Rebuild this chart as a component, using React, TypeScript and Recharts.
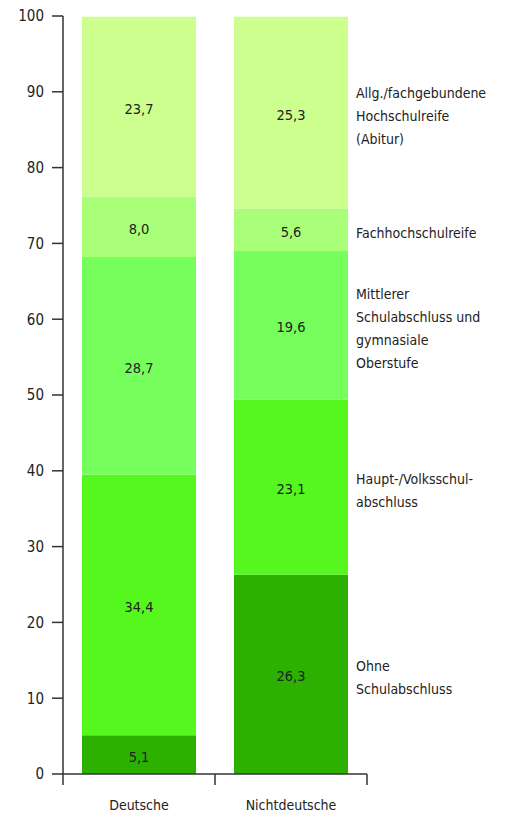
import React from 'react';
import { BarChart, Bar, XAxis, YAxis, LabelList } from 'recharts';

const categories = ['Deutsche', 'Nichtdeutsche'];
const seriesKeys = ['ohne', 'haupt', 'mittel', 'fach', 'abitur'];
const seriesLabels: string[][] = [
  ['Ohne', 'Schulabschluss'],
  ['Haupt-/Volksschul-', 'abschluss'],
  ['Mittlerer', 'Schulabschluss und', 'gymnasiale', 'Oberstufe'],
  ['Fachhochschulreife'],
  ['Allg./fachgebundene', 'Hochschulreife', '(Abitur)'],
];
const deutsche = [5.1, 34.4, 28.7, 8.0, 23.7];
const nichtdeutsche = [26.3, 23.1, 19.6, 5.6, 25.3];
const yTicks = [0, 10, 20, 30, 40, 50, 60, 70, 80, 90, 100];
const colors = ['#2cb100', '#55f71f', '#76fe5c', '#aaff78', '#ccff8d'];

const FONT = '"DejaVu Sans Condensed", sans-serif';
const TEXT = '#222';
const AXIS = '#333';
const FS = 14;

const CHART_W = 490;
const CHART_H = 809;
const MARGIN = { top: 8, right: 131, bottom: 0, left: 0 };
const YAXIS_W = 55;
const PLOT_W = CHART_W - MARGIN.left - MARGIN.right - YAXIS_W;

const values = [deutsche, nichtdeutsche];
const data = categories.map((c, ci) => {
  const row: Record<string, any> = { name: c };
  seriesKeys.forEach((k, si) => {
    row[k] = values[ci][si];
  });
  return row;
});

const fmt = (v: any) => Number(v).toFixed(1).replace('.', ',');

const XTick = (props: any) => {
  const { x, y, payload, index, visibleTicksCount } = props;
  const band = PLOT_W / (visibleTicksCount || categories.length);
  const last = index === (visibleTicksCount || categories.length) - 1;
  return (
    <g>
      <line x1={x - band / 2} x2={x - band / 2} y1={y} y2={y + 11} stroke={AXIS} strokeWidth={1.5} />
      {last && <line x1={x + band / 2} x2={x + band / 2} y1={y} y2={y + 11} stroke={AXIS} strokeWidth={1.5} />}
      <text x={x} y={y + 36} textAnchor="middle" fill={TEXT} fontSize={FS} fontFamily={FONT}>
        {payload.value}
      </text>
    </g>
  );
};

const makeSideLabel = (lines: string[]) => (props: any) => {
  const { x, y, width, height, index } = props;
  if (index !== 1) return null;
  const lx = Number(x) + Number(width) + 8;
  const cy = Number(y) + Number(height) / 2 + 3;
  const lh = 23;
  const startY = cy - ((lines.length - 1) * lh) / 2;
  return (
    <text x={lx} y={startY} fill={TEXT} fontSize={FS} fontFamily={FONT} dominantBaseline="central">
      {lines.map((l, i) => (
        <tspan key={i} x={lx} y={startY + i * lh}>
          {l}
        </tspan>
      ))}
    </text>
  );
};

export default function App() {
  return (
    <BarChart
      width={CHART_W}
      height={CHART_H}
      data={data}
      margin={MARGIN}
      barCategoryGap="12.5%"
      style={{ fontFamily: FONT }}
    >
      <XAxis
        dataKey="name"
        height={CHART_H - MARGIN.top - 758}
        tickLine={false}
        tickSize={0}
        tickMargin={0}
        axisLine={{ stroke: AXIS, strokeWidth: 1.5 }}
        tick={<XTick />}
        interval={0}
      />
      <YAxis
        width={YAXIS_W}
        domain={[0, 100]}
        ticks={yTicks}
        interval={0}
        tickSize={11}
        tickMargin={8}
        axisLine={{ stroke: AXIS, strokeWidth: 1.5 }}
        tickLine={{ stroke: AXIS, strokeWidth: 1.5 }}
        tick={{ fill: TEXT, fontSize: 15, fontFamily: FONT }}
      />
      {seriesKeys.map((k, si) => (
        <Bar key={k} dataKey={k} stackId="a" fill={colors[si]} isAnimationActive={false}>
          <LabelList
            dataKey={k}
            position="center"
            formatter={fmt}
            fill={TEXT}
            fontSize={14.5}
            fontFamily={FONT}
            dy={2}
          />
          <LabelList dataKey={k} content={makeSideLabel(seriesLabels[si])} />
        </Bar>
      ))}
    </BarChart>
  );
}
